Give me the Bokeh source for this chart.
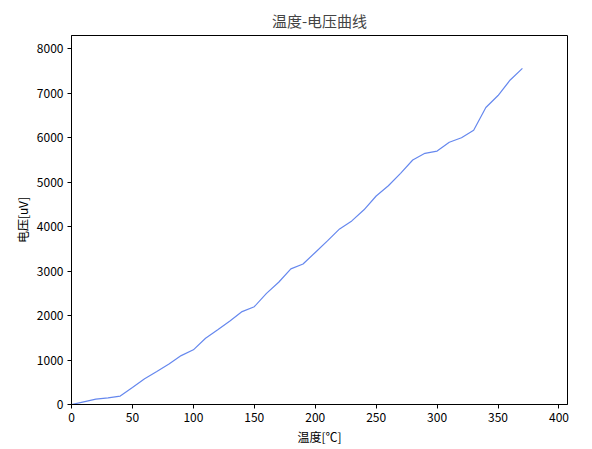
from bokeh.plotting import figure
from bokeh.models import Range1d, FixedTicker
from bokeh.embed import file_html
from bokeh.resources import INLINE

temps = [0, 10, 20, 30, 40, 50, 60, 70, 80, 90, 100, 110, 120, 130, 140, 150, 160, 170, 180, 190,
         200, 210, 220, 230, 240, 250, 260, 270, 280, 290, 300, 310, 320, 330, 340, 350, 360, 370]
voltages = [0, 60, 120, 150, 190, 380, 580, 740, 910, 1100, 1230, 1490, 1680, 1880, 2090, 2200, 2500, 2750, 3050, 3160,
            3420, 3680, 3950, 4130, 4380, 4690, 4920, 5200, 5500, 5650, 5700, 5900, 6000, 6170, 6680, 6950, 7300, 7560]
x_ticks = [0, 50, 100, 150, 200, 250, 300, 350, 400]
y_ticks = [0, 1000, 2000, 3000, 4000, 5000, 6000, 7000, 8000]

FONT = "Noto Sans CJK SC"

p = figure(width=584, height=447, output_backend="svg", toolbar_location=None,
           x_range=Range1d(0, 407), y_range=Range1d(0, 8300),
           title="温度-电压曲线",
           min_border_left=71, min_border_right=17, min_border_top=35, min_border_bottom=30)

p.line(temps, voltages, line_color="#6688ee", line_width=1.2)

p.title.align = "center"
p.title.text_font = FONT
p.title.text_font_size = "15px"
p.title.text_font_style = "normal"
p.title.offset = 0

p.grid.visible = False
p.outline_line_color = "black"
p.outline_line_width = 1
p.outline_line_alpha = 1

p.xaxis.ticker = FixedTicker(ticks=x_ticks)
p.yaxis.ticker = FixedTicker(ticks=y_ticks)
p.xaxis.axis_label = "温度[℃]"
p.yaxis.axis_label = "电压[uV]"
for ax in (p.xaxis[0], p.yaxis[0]):
    ax.axis_line_color = "black"
    ax.major_tick_line_color = "black"
    ax.major_tick_in = 0
    ax.major_tick_out = 4
    ax.minor_tick_line_color = None
    ax.major_label_text_font = FONT
    ax.major_label_text_font_size = "12px"
    ax.major_label_text_color = "black"
    ax.axis_label_text_font = FONT
    ax.axis_label_text_font_size = "12px"
    ax.axis_label_text_font_style = "normal"
    ax.axis_label_text_color = "black"
    ax.major_label_standoff = 4
    ax.axis_label_standoff = 3

open("out.html", "w").write(file_html(p, INLINE))
